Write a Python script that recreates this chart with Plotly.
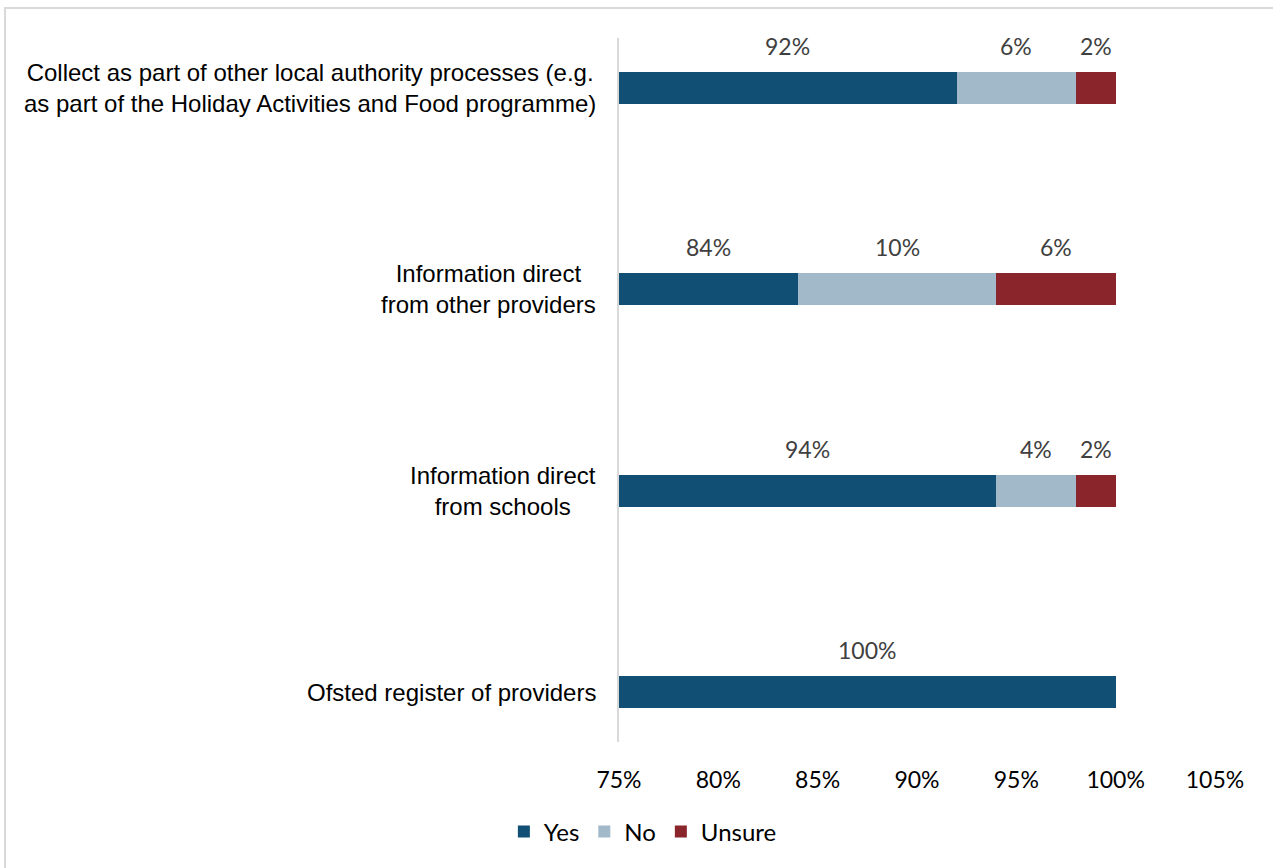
import plotly.graph_objects as go

# Sources of information, listed top to bottom
categories = [
    "Collect as part of other local authority processes (e.g.<br>as part of the Holiday Activities and Food programme)",
    "Information direct<br>from other providers",
    "Information direct<br>from schools",
    "Ofsted register of providers",
]
yes_vals = [92, 84, 94, 100]
no_vals = [6, 10, 4, 0]
unsure_vals = [2, 6, 2, 0]

series = [
    ("Yes", yes_vals, "#114F74"),
    ("No", no_vals, "#A2B9C9"),
    ("Unsure", unsure_vals, "#8A252B"),
]

x_ticks = [75, 80, 85, 90, 95, 100, 105]
x_min, x_max = 75, 105

W, H = 1273, 868
L, R, T, B = 619, 58, 38, 126
plot_w = W - L - R
plot_h = H - T - B

NUM_FONT = "Lato, Open Sans, sans-serif"
CAT_FONT = "Liberation Sans, Arial, sans-serif"

# plot from the bottom up so the first category sits at the top
y_order = list(reversed(categories))

fig = go.Figure()
for name, vals, color in series:
    fig.add_trace(go.Bar(
        y=categories,
        x=vals,
        name=name,
        orientation="h",
        marker=dict(color=color, line=dict(width=0)),
        width=0.158,
        hoverinfo="x+name",
    ))

# value labels above each segment, centred on the visible part of the segment
annotations = []
for ci, cat in enumerate(categories):
    start = 0
    for name, vals, color in series:
        v = vals[ci]
        end = start + v
        if v > 0:
            lo = max(start, x_min)
            mid = (lo + end) / 2
            annotations.append(dict(
                x=mid, y=cat, xref="x", yref="y",
                text=f"{v}%", showarrow=False, yshift=42,
                font=dict(family=NUM_FONT, size=23, color="#404040"),
            ))
        start = end

# category labels, centred line by line, right edge next to the axis
for cat in categories:
    annotations.append(dict(
        x=0, y=cat, xref="paper", yref="y",
        text=cat, showarrow=False, xanchor="right", align="center",
        xshift=-21,
        font=dict(family=CAT_FONT, size=24, color="#000000"),
    ))

# light grey frame around the chart
def px_to_paper_x(px):
    return (px - L) / plot_w

def px_to_paper_y(py):
    return (H - B - py) / plot_h

shapes = [dict(
    type="rect", xref="paper", yref="paper",
    x0=px_to_paper_x(5), x1=px_to_paper_x(W + 20),
    y0=px_to_paper_y(H + 20), y1=px_to_paper_y(8),
    line=dict(color="#D9D9D9", width=2), fillcolor="rgba(0,0,0,0)", layer="below",
)]

fig.update_layout(
    barmode="stack",
    width=W, height=H,
    margin=dict(l=L, r=R, t=T, b=B, autoexpand=False),
    paper_bgcolor="white",
    plot_bgcolor="white",
    bargap=0,
    showlegend=True,
    legend=dict(
        orientation="h",
        xref="container", yref="container",
        x=0.505, xanchor="center",
        y=(H - 832) / H, yanchor="middle",
        font=dict(family=NUM_FONT, size=24, color="#000000"),
        itemwidth=30,
        traceorder="normal",
    ),
    xaxis=dict(
        range=[x_min, x_max],
        tickvals=x_ticks,
        ticktext=[f"{t}%" for t in x_ticks],
        showgrid=False,
        zeroline=False,
        showline=False,
        ticks="",
        ticklabelstandoff=22,
        tickfont=dict(family=NUM_FONT, size=23, color="#000000"),
    ),
    yaxis=dict(
        categoryorder="array",
        categoryarray=y_order,
        range=[-0.248, 3.248],
        showticklabels=False,
        showgrid=False,
        zeroline=False,
        showline=True,
        linecolor="#D9D9D9",
        linewidth=2,
        ticks="",
    ),
    annotations=annotations,
    shapes=shapes,
)

fig.write_html("out.html")
